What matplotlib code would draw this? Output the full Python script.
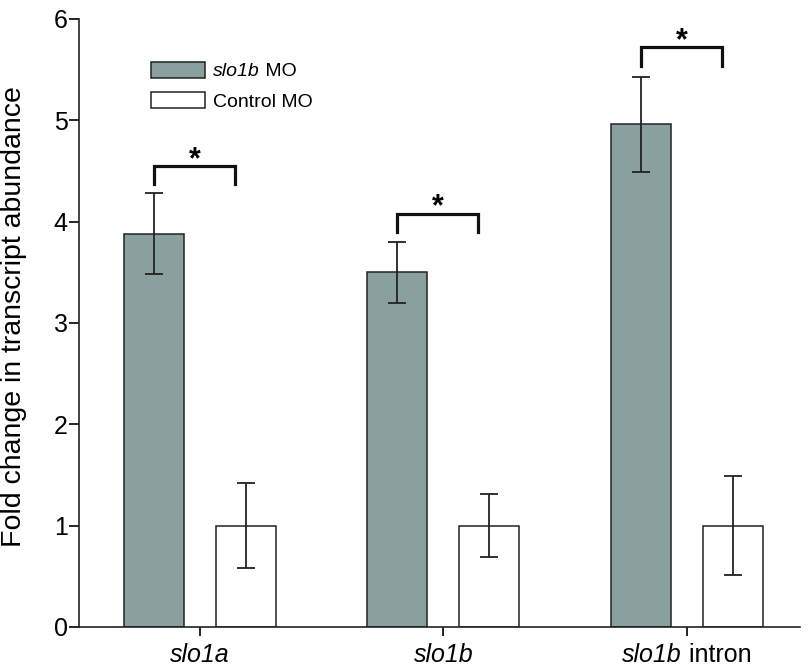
import numpy as np
import matplotlib.pyplot as plt
from matplotlib.patches import Patch
from matplotlib.transforms import ScaledTranslation

plt.rcParams['font.family'] = ['Liberation Sans', 'DejaVu Sans']

# data
genes = ['slo1a', 'slo1b', 'slo1b intron']
mo_mean = [3.88, 3.50, 4.96]
mo_err = [0.40, 0.30, 0.47]
ctrl_mean = [1.0, 1.0, 1.0]
ctrl_err = [0.42, 0.31, 0.49]
# significance brackets: (top, leg bottom)
brackets = [(4.55, 4.37), (4.08, 3.90), (5.72, 5.54)]

x = np.arange(len(genes))
w = 0.246
off = 0.189
br_right = 0.144

fig = plt.figure(figsize=(8.12, 6.72), dpi=100)
ax = fig.add_axes([0.097, 0.067, 0.888, 0.9048])

ekw = dict(elinewidth=1.3, capthick=1.3, ecolor='#222222')
ax.bar(x - off, mo_mean, w, color='#89a09f', edgecolor='#222222', linewidth=1.1,
       yerr=mo_err, capsize=6.5, error_kw=ekw)
ax.bar(x + off, ctrl_mean, w, color='white', edgecolor='#222222', linewidth=1.1,
       yerr=ctrl_err, capsize=6.5, error_kw=ekw)

for i, (top, bot) in enumerate(brackets):
    ax.plot([x[i] - off, x[i] - off, x[i] + br_right, x[i] + br_right], [bot, top, top, bot],
            color='#111111', lw=2.3, solid_joinstyle='miter')
    ax.text(x[i] - (off - br_right) / 2, top + 0.06, '*', ha='center', va='center',
            fontsize=22, fontweight='bold')

ax.set_xlim(-0.497, 2.464)
ax.set_ylim(0, 6)
ax.set_xticks(x)
ax.set_xticklabels([])

# x labels: gene names italic, "intron" upright
renderer = fig.canvas.get_renderer()
for i, g in enumerate(genes):
    parts = g.split(' ', 1)
    t1 = ax.text(x[i], -0.16, parts[0], ha='center', va='top', fontsize=18, style='italic')
    if len(parts) > 1:
        t1.set_ha('right')
        t2 = ax.annotate(' ' + parts[1], xy=(1, 0), xycoords=t1, ha='left', va='bottom',
                         fontsize=18)
        w1 = t1.get_window_extent(renderer).width
        w2 = t2.get_window_extent(renderer).width
        dx = (w1 - w2) / 2 / fig.dpi
        t1.set_transform(ax.transData + ScaledTranslation(dx, 0, fig.dpi_scale_trans))

ax.set_yticks(range(7))
ax.tick_params(axis='y', labelsize=18, length=7, width=1.2, pad=1)
ax.tick_params(axis='x', length=6.5, width=1.2, direction='out')
ax.set_ylabel('Fold change in transcript abundance', fontsize=20.5)
ax.yaxis.set_label_coords(-0.072, 0.51)

for s in ['top', 'right']:
    ax.spines[s].set_visible(False)
for s in ['left', 'bottom']:
    ax.spines[s].set_linewidth(1.2)
    ax.spines[s].set_color('#222222')

handles = [Patch(facecolor='#89a09f', edgecolor='#222222', lw=1.1),
           Patch(facecolor='white', edgecolor='#222222', lw=1.1)]
leg = ax.legend(handles, ['slo1b', 'Control MO'], loc='upper left',
                bbox_to_anchor=(0.1, 0.93), borderaxespad=0, borderpad=0, frameon=False,
                fontsize=14, handlelength=2.8, handleheight=0.9, handletextpad=0.4,
                labelspacing=0.6)
lt = leg.get_texts()[0]
lt.set_style('italic')

# put the upright " MO" right after the italic legend label
fig.canvas.draw()
bb = lt.get_window_extent(fig.canvas.get_renderer())
W, H = fig.bbox.width, fig.bbox.height
fig.text(bb.x1 / W, bb.y0 / H, ' MO', ha='left', va='bottom', fontsize=14)

fig.savefig('out.png', dpi=100)
